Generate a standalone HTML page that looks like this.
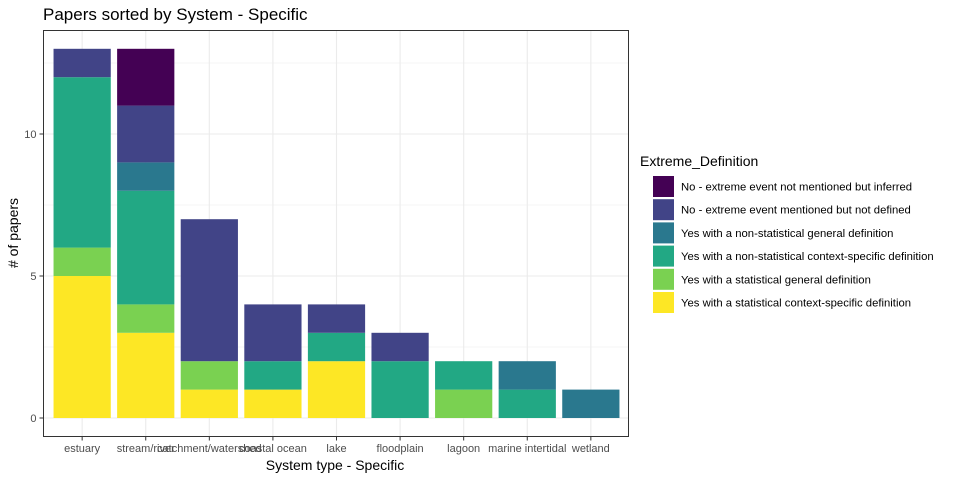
<!DOCTYPE html>
<html><head><meta charset="utf-8"><style>
body{margin:0;background:#fff;font-family:"Liberation Sans",Arial,sans-serif;}
svg text{font-family:"Liberation Sans",Arial,sans-serif;}
</style></head><body>
<svg id="chart" width="960" height="480" xmlns="http://www.w3.org/2000/svg">
<rect width="960" height="480" fill="#fff"/>
<text x="43" y="20" font-size="17" fill="#000">Papers sorted by System - Specific</text>
<g id="grid"></g>
<g id="bars"></g>
<rect x="43.5" y="30.5" width="585" height="406" fill="none" stroke="#333" stroke-width="1"/>
<g id="axes"></g>
<text x="335" y="470" font-size="14" text-anchor="middle" fill="#000">System type - Specific</text>
<text transform="translate(18,233) rotate(-90)" font-size="14" text-anchor="middle" fill="#000"># of papers</text>
<g id="legend"></g>
</svg>
<script>
const categories=["estuary","stream/river","catchment/watershed","coastal ocean","lake","floodplain","lagoon","marine intertidal","wetland"];
const seriesNames=["No - extreme event not mentioned but inferred","No - extreme event mentioned but not defined","Yes with a non-statistical general definition","Yes with a non-statistical context-specific definition","Yes with a statistical general definition","Yes with a statistical context-specific definition"];
const colors=["#440154","#414487","#2A788E","#22A884","#7AD151","#FDE725"];
const sInferred=[0,2,0,0,0,0,0,0,0];
const sNotDefined=[1,2,5,2,1,1,0,0,0];
const sNonStatGeneral=[0,1,0,0,0,0,0,1,1];
const sNonStatContext=[6,4,0,1,1,2,1,1,0];
const sStatGeneral=[1,1,1,0,0,0,1,0,0];
const sStatContext=[5,3,1,1,2,0,0,0,0];
const yTicks=[0,5,10];
const series=[sInferred,sNotDefined,sNonStatGeneral,sNonStatContext,sStatGeneral,sStatContext];
const NS="http://www.w3.org/2000/svg";
const px0=43.5,px1=628.5,py0=30.5,py1=436.5;
const yScale=v=>418-v*28.4;
const step=(px1-px0)/(categories.length+0.2);
const xScale=i=>px0+step*(0.6+i)+0.5;
const bw=step*0.9;
function mk(t,a,p){const e=document.createElementNS(NS,t);for(const k in a)e.setAttribute(k,a[k]);(p||document.getElementById('chart')).appendChild(e);return e;}
const grid=document.getElementById('grid');
mk('rect',{x:px0,y:py0,width:px1-px0,height:py1-py0,fill:'#fff'},grid);
for(let v=0;v<=12.5;v+=2.5){const y=yScale(v);const l=mk('line',{x1:px0,x2:px1,y1:y,y2:y,stroke:'#ebebeb','stroke-width':v%5===0?1.1:0.55},grid);

}
categories.forEach((c,i)=>{const x=xScale(i);const l=mk('line',{x1:x,x2:x,y1:py0,y2:py1,stroke:'#ebebeb','stroke-width':1.1},grid);

});
const bars=document.getElementById('bars');
categories.forEach((c,i)=>{let cum=0;
for(let s=series.length-1;s>=0;s--){const v=series[s][i];if(!v)continue;
const r=mk('rect',{x:xScale(i)-bw/2,y:yScale(cum+v),width:bw,height:yScale(cum)-yScale(cum+v),fill:colors[s]},bars);


cum+=v;}});
const axes=document.getElementById('axes');
yTicks.forEach(v=>{const y=yScale(v);mk('line',{x1:px0-4,x2:px0,y1:y,y2:y,stroke:'#333'},axes);
const t=mk('text',{x:px0-7,y:y+4,'font-size':11,'text-anchor':'end',fill:'#4d4d4d'},axes);t.textContent=v;

});
categories.forEach((c,i)=>{const x=xScale(i);mk('line',{x1:x,x2:x,y1:py1,y2:py1+4,stroke:'#333'},axes);
const t=mk('text',{x:x,y:452,'font-size':11,'text-anchor':'middle',fill:'#4d4d4d'},axes);t.textContent=c;

});
const lg=document.getElementById('legend');
const lt=mk('text',{x:640,y:166,'font-size':14,fill:'#000'},lg);lt.textContent='Extreme_Definition';


seriesNames.forEach((n,s)=>{const y=176+s*23.2;
const r=mk('rect',{x:653,y:y,width:21,height:21,fill:colors[s]},lg);


const t=mk('text',{x:681,y:y+14.5,'font-size':11.3,fill:'#000'},lg);t.textContent=n;

});
</script>
</body></html>
